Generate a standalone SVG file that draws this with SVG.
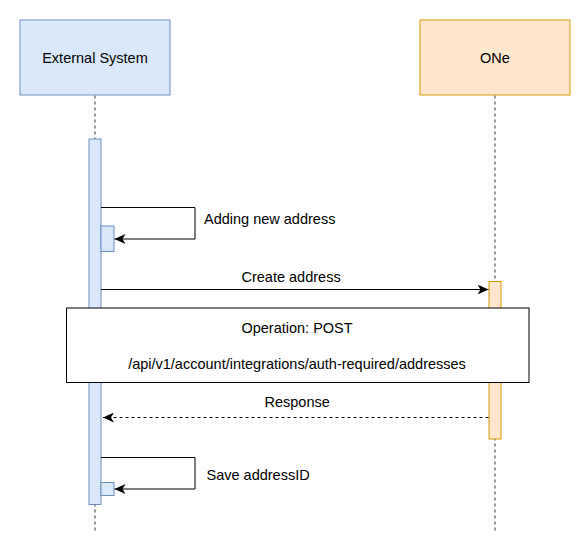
<svg xmlns="http://www.w3.org/2000/svg" width="583" height="549" viewBox="0 0 583 549">
<style>
text{font-family:"Liberation Sans",Arial,sans-serif;font-size:14.5px;fill:#000}
.mid{text-anchor:middle}
.blue{fill:#dae8fc;stroke:#6c8ebf;stroke-width:1}
.orange{fill:#ffe6cc;stroke:#d79b00;stroke-width:1}
.life{stroke:#333;stroke-width:1;stroke-dasharray:3 3;fill:none}
.msg{stroke:#000;stroke-width:1;fill:none}
.dash{stroke-dasharray:3 3}
</style>
<defs>
<marker id="arr" viewBox="0 0 12 10" refX="11" refY="5" markerWidth="12" markerHeight="10" markerUnits="userSpaceOnUse" orient="auto">
<path d="M0,0 L11,5 L0,10 L3,5 Z" fill="#000"/>
</marker>
</defs>
<rect width="583" height="549" fill="#fff"/>
<g id="lifelines">
<line class="life" x1="95" y1="95.5" x2="95" y2="533"/>
<line class="life" x1="495" y1="95.5" x2="495" y2="533"/>
</g>
<g id="external-system">
<rect class="blue" x="20" y="20" width="150" height="75"/>
<text class="mid" x="95" y="63">External System</text>
</g>
<g id="one">
<rect class="orange" x="420" y="20" width="150" height="75"/>
<text class="mid" x="495" y="63">ONe</text>
</g>
<g id="activation-external">
<rect class="blue" x="89" y="139" width="12" height="365.5"/>
</g>
<g id="activation-add">
<rect class="blue" x="101" y="226" width="13" height="25.5"/>
</g>
<g id="activation-save">
<rect class="blue" x="101" y="482.5" width="13" height="13"/>
</g>
<g id="activation-one">
<rect class="orange" x="489" y="281.5" width="12" height="157.5"/>
</g>
<g id="connectors">
<path class="msg" d="M101,207.5 H195 V239 H114.5" marker-end="url(#arr)"/>
<text x="204" y="224">Adding new address</text>
<path class="msg" d="M101,289.5 H488.5" marker-end="url(#arr)"/>
<text x="241.5" y="281.5">Create address</text>
<path class="msg dash" d="M488.5,417.5 H103" marker-end="url(#arr)"/>
<text x="264.5" y="406.5">Response</text>
<path class="msg" d="M101,457.5 H195 V489 H114.5" marker-end="url(#arr)"/>
<text x="206.5" y="480">Save addressID</text>
</g>
<g id="operation">
<rect x="66.5" y="308" width="462.5" height="74.5" fill="#fff" stroke="#000" stroke-width="1"/>
<text class="mid" x="297" y="332.5">Operation: POST</text>
<text class="mid" x="297" y="368.5">/api/v1/account/integrations/auth-required/addresses</text>
</g>
</svg>
